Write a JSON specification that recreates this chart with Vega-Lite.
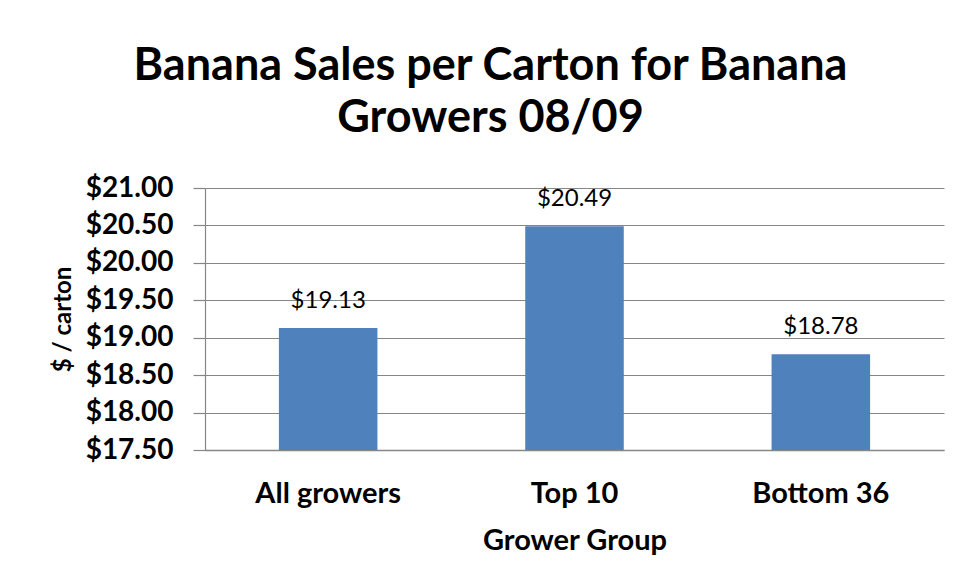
{
  "$schema": "https://vega.github.io/schema/vega-lite/v6.json",
  "autosize": {"type": "none"},
  "width": 739,
  "height": 262,
  "padding": {"left": 205, "top": 188, "right": 13, "bottom": 134},
  "background": "white",
  "title": {
    "text": ["Banana Sales per Carton for Banana", "Growers 08/09"],
    "font": "Lato",
    "fontSize": 45,
    "fontWeight": "bold",
    "color": "#000000",
    "lineHeight": 52,
    "anchor": "middle",
    "dx": -84,
    "offset": 33
  },
  "data": {
    "values": [
      {"group": "All growers", "price": 19.13},
      {"group": "Top 10", "price": 20.49},
      {"group": "Bottom 36", "price": 18.78}
    ]
  },
  "encoding": {
    "x": {
      "field": "group",
      "type": "nominal",
      "sort": null,
      "title": "Grower Group",
      "scale": {"paddingInner": 0.6, "paddingOuter": 0.3},
      "axis": {
        "labelAngle": 0,
        "ticks": false,
        "labelPadding": 29,
        "labelFont": "Lato",
        "labelFontSize": 29,
        "labelFontWeight": "bold",
        "labelColor": "#000000",
        "titleFont": "Lato",
        "titleFontSize": 29,
        "titleFontWeight": "bold",
        "titleColor": "#000000",
        "titlePadding": 18,
        "domainColor": "#868686",
        "domainWidth": 1.5
      }
    },
    "y": {
      "field": "price",
      "type": "quantitative",
      "title": "$ / carton",
      "scale": {"domain": [17.5, 21], "zero": false, "nice": false},
      "axis": {
        "values": [17.5, 18, 18.5, 19, 19.5, 20, 20.5, 21],
        "format": "$.2f",
        "grid": true,
        "gridColor": "#868686",
        "gridWidth": 1.2,
        "tickColor": "#868686",
        "tickSize": 12,
        "tickWidth": 1.2,
        "domainColor": "#868686",
        "domainWidth": 1.2,
        "labelPadding": 20,
        "labelFont": "Lato",
        "labelFontSize": 28,
        "labelFontWeight": "bold",
        "labelColor": "#000000",
        "titleFont": "Lato",
        "titleFontSize": 24,
        "titleFontWeight": "bold",
        "titleColor": "#000000",
        "titlePadding": 10
      }
    }
  },
  "layer": [
    {
      "mark": {"type": "bar", "color": "#4F81BD"},
      "encoding": {"y2": {"datum": 17.5}}
    },
    {
      "mark": {"type": "text", "font": "Lato", "fontSize": 24, "color": "#000000", "baseline": "alphabetic", "dy": -20},
      "encoding": {"text": {"field": "price", "type": "quantitative", "format": "$.2f"}}
    }
  ],
  "config": {"view": {"stroke": null}}
}
